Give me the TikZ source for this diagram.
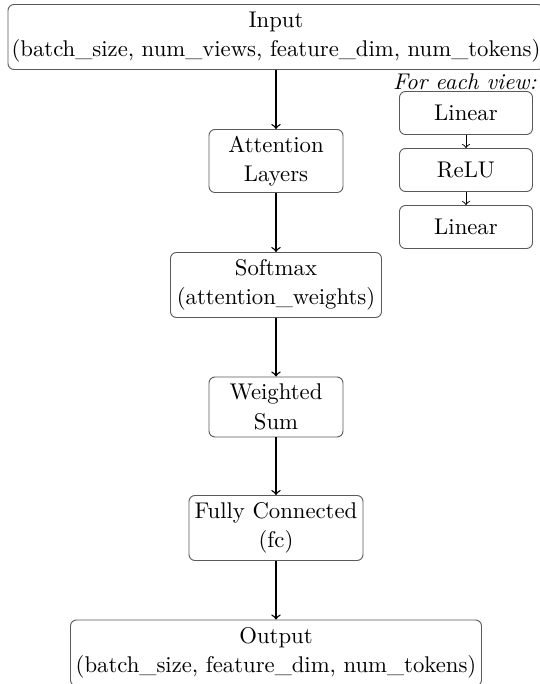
\documentclass[tikz,border=0pt]{standalone}
\usepackage{amsmath}
\usepackage{tikz}
\usetikzlibrary{calc, arrows}
\newdimen\px
\px=0.44pt
\begin{document}
\begin{tikzpicture}[x=\px, y=-\px,
    block/.style={draw=black!65, rounded corners=6\px, align=center, inner sep=0pt, font={\fontsize{10}{13}\selectfont}},
    flow/.style={semithick, ->},
    small/.style={thin, ->}]
      \useasboundingbox (0,0) rectangle (540,684);
      % main column
      \node[block, minimum width=536\px, minimum height=65\px] (input) at (276,37) {Input\\(batch\_size, num\_views, feature\_dim, num\_tokens)};
      \node[block, minimum width=134\px, minimum height=63\px] (attn) at (276,161) {Attention\\Layers};
      \node[block, minimum width=211\px, minimum height=65\px] (softmax) at (276,285) {Softmax\\(attention\_weights)};
      \node[block, minimum width=134\px, minimum height=60\px] (wsum) at (276,407) {Weighted\\Sum};
      \node[block, minimum width=174\px, minimum height=65\px] (fc) at (276,528) {Fully Connected\\(fc)};
      \node[block, minimum width=411\px, minimum height=66\px] (output) at (276,653) {Output\\(batch\_size, feature\_dim, num\_tokens)};
      % per-view branch
      \node[anchor=east, font=\itshape, inner sep=0pt] (view) at (537,82) {For each view:};
      \node[block, minimum width=133\px, minimum height=43\px] (lin1) at (466,113) {Linear};
      \node[block, minimum width=133\px, minimum height=43\px] (relu) at (466,170) {ReLU};
      \node[block, minimum width=133\px, minimum height=43\px] (lin2) at (466,227) {Linear};
      \draw[flow] (input) -- (attn);
      \draw[flow] (attn) -- (softmax);
      \draw[flow] (softmax) -- (wsum);
      \draw[flow] (wsum) -- (fc);
      \draw[flow] (fc) -- (output);
      \draw[small] (lin1) -- (relu);
      \draw[small] (relu) -- (lin2);
\end{tikzpicture}
\end{document}
